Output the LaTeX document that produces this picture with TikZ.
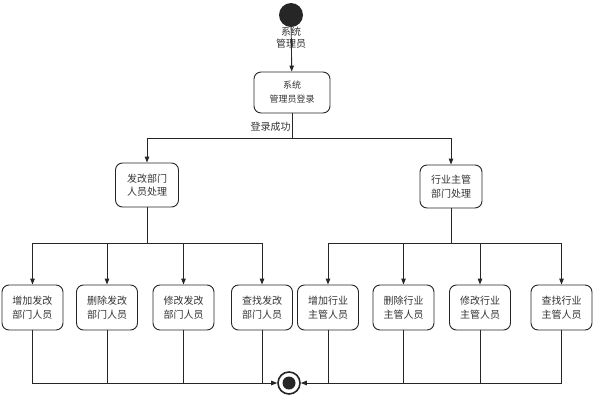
\documentclass[tikz,border=0pt]{standalone}
\usepackage{fontspec}
\newfontfamily\cjk{Noto Sans CJK SC}
\usetikzlibrary{arrows.meta}
\definecolor{linegray}{HTML}{262626}
\definecolor{textgray}{HTML}{333333}
\tikzset{
  box/.style = {draw = linegray, line width = .9pt, rounded corners = 7pt, align = center,
    minimum width = 61, minimum height = 45, inner sep = 1pt, text = textgray,
    font = \cjk\fontsize{10}{13.5}\selectfont},
  lbl/.style = {text = textgray, align = center, inner sep = 1pt, font = \cjk\fontsize{10}{12}\selectfont},
  flow/.style = {draw = linegray, line width = .9pt},
  arr/.style = {flow, -{Triangle[length = 6pt, width = 4.5pt]}}
}
\begin{document}
\begin{tikzpicture}[x = 1pt, y = -1pt]
  \useasboundingbox (0,0) rectangle (595,400);
  % start / end
  \node[circle, fill = linegray, minimum size = 24, inner sep = 0pt] (start) at (291,15) {};
  \node[lbl] (startlbl) at (291,38) {系统\\管理员};
  \node[circle, draw = linegray, line width = 1.6pt, minimum size = 22, inner sep = 0pt] (end) at (289,383) {};
  \fill[linegray] (end.center) circle (6.5);
  % login
  \node[box, minimum width = 76, minimum height = 41, font = \cjk\fontsize{9}{14}\selectfont] (login) at (292,92.5) {系统\\管理员登录};
  \coordinate (split) at (292,138);
  \draw[arr] (start) -- (login);
  \draw[flow] (login) -- (split) node[pos = .55, left, lbl] {登录成功};
  % second level
  \node[box, minimum width = 63, minimum height = 44] (fg) at (147,185) {发改部门\\人员处理};
  \node[box, minimum width = 62, minimum height = 43] (hy) at (451,186.5) {行业主管\\部门处理};
  \draw[arr] (split) -| (fg);
  \draw[arr] (split) -| (hy);
  \coordinate (fgsplit) at (147,243);
  \coordinate (hysplit) at (451,243);
  \draw[flow] (fg) -- (fgsplit);
  \draw[flow] (hy) -- (hysplit);
  % third level
  \node[box] (fg1) at (32.5,307.5) {增加发改\\部门人员};
  \node[box] (fg2) at (107,307.5) {删除发改\\部门人员};
  \node[box] (fg3) at (183.5,307.5) {修改发改\\部门人员};
  \node[box] (fg4) at (262,307.5) {查找发改\\部门人员};
  \node[box] (hy1) at (328,307.5) {增加行业\\主管人员};
  \node[box] (hy2) at (403.5,307.5) {删除行业\\主管人员};
  \node[box] (hy3) at (480,307.5) {修改行业\\主管人员};
  \node[box] (hy4) at (561.5,307.5) {查找行业\\主管人员};
  \foreach \n in {fg1, fg2, fg3, fg4} {
    \draw[arr] (fgsplit) -| (\n);
    \draw[flow] (\n) -- (\n |- end);
  }
  \foreach \n in {hy1, hy2, hy3, hy4} {
    \draw[arr] (hysplit) -| (\n);
    \draw[flow] (\n) -- (\n |- end);
  }
  \draw[arr] (fg1) |- (end);
  \draw[arr] (hy4) |- (end);
\end{tikzpicture}
\end{document}
